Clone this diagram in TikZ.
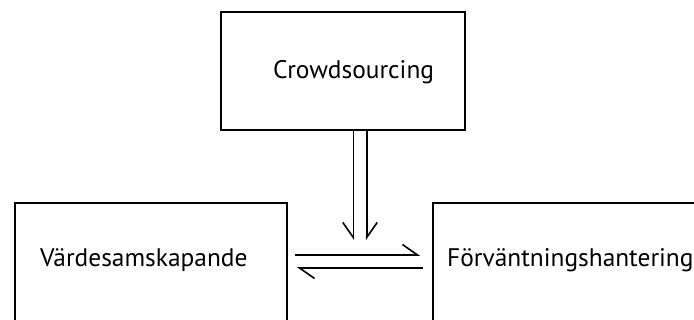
\documentclass[tikz,border=0pt]{standalone}
\usepackage{fontspec}
\setmainfont{PT Sans}
\usetikzlibrary{arrows.meta}

\tikzset{
    box/.style={draw, rectangle, line width=1.6pt, inner sep=0pt},
    boxtext/.style={font=\fontsize{25.4}{30}\selectfont, inner sep=0pt,
        anchor=base west},
    barbl/.style={line width=1.6pt,
        -{Straight Barb[left, length=15pt, width=21pt]}},
    barbr/.style={line width=1.6pt,
        -{Straight Barb[right, length=15pt, width=21pt]}}
}

\begin{document}
\begin{tikzpicture}[x=1pt, y=-1pt]
    \useasboundingbox (0, 0) rectangle (694, 320);
    \clip (0, 0) rectangle (694, 320);

    % Crowdsourcing
    \node[box, minimum width=244, minimum height=118] (crowd) at (343, 71) {};
    \node[boxtext] (crowdtxt) at (273, 79) {Crowdsourcing};

    % Värdesamskapande
    \node[box, minimum width=272, minimum height=140] (vard) at (151, 273) {};
    \node[boxtext] (vardtxt) at (40, 267) {Värdesamskapande};

    % Förväntningshantering
    \node[box, minimum width=290, minimum height=140] (forv) at (578, 273) {};
    \node[boxtext] (forvtxt) at (447, 267) {Förväntningshantering};

    % down into the exchange
    \coordinate (downl) at (353.3, 240);
    \coordinate (downr) at (366.7, 240);
    \draw[barbr] (crowd.south -| downl) -- (downl);
    \draw[barbl] (crowd.south -| downr) -- (downr);

    % back and forth
    \coordinate (tovard) at (295, 255);
    \coordinate (toforv) at (420, 255);
    \coordinate (fromforv) at (423, 268);
    \coordinate (atvard) at (297, 268);
    \draw[barbl] (tovard) -- (toforv);
    \draw[barbl] (fromforv) -- (atvard);
\end{tikzpicture}
\end{document}
